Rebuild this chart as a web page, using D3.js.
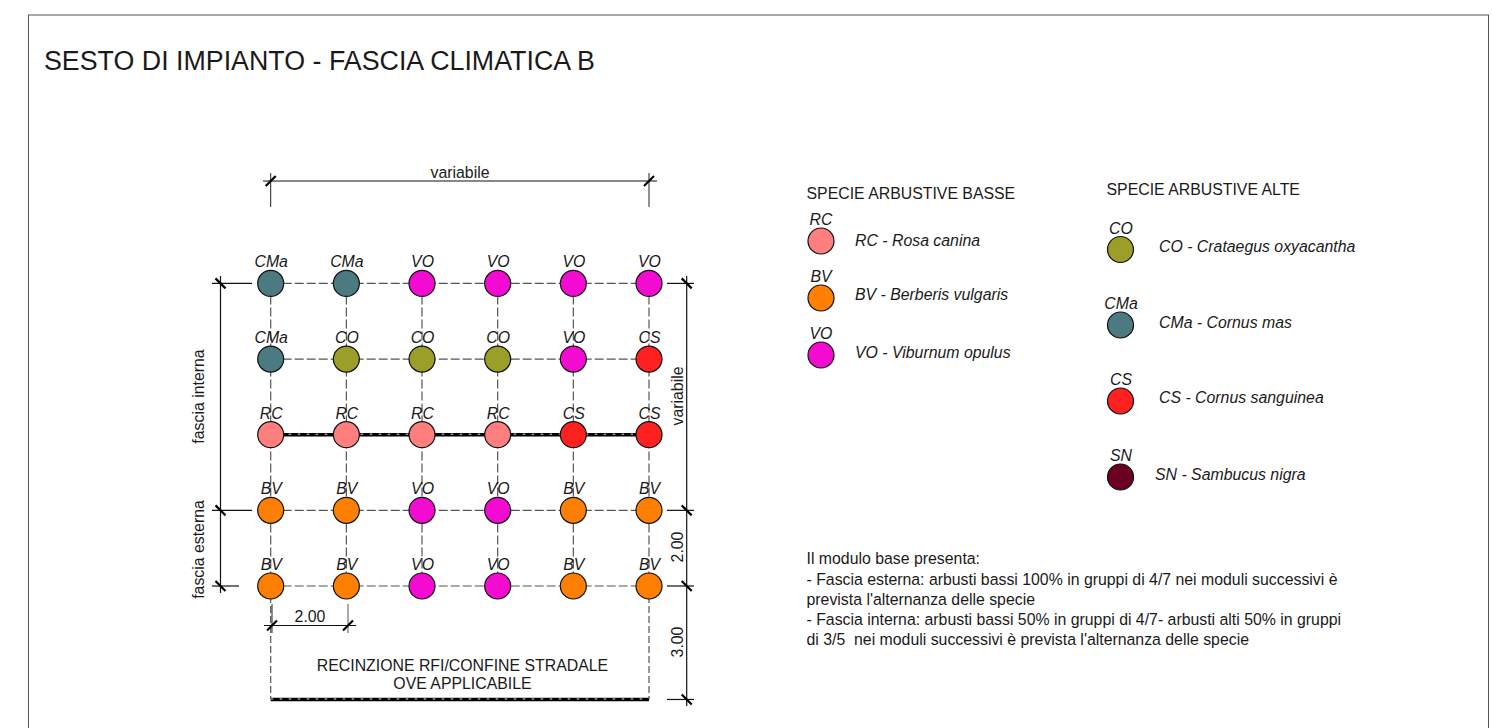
<!DOCTYPE html>
<html>
<head>
<meta charset="utf-8">
<script src="https://cdn.jsdelivr.net/npm/d3@7"></script>
<style>
    html, body { margin: 0; padding: 0; background: #fff; overflow: hidden; }
    svg { display: block; }
    text { font-family: "Liberation Sans", Arial, sans-serif; fill: #1a1a1a; }
</style>
</head>
<body>
<div id="chart"></div>
<script>
// Planting module, positions in metres
const colMetres = [0, 2, 4, 6, 8, 10];
const rowMetres = [0, 2, 4, 6, 8];
const fenceMetres = 11;

// Species on each row of the module, from the inner row to the road side
const plantRows = [
    ["CMa", "CMa", "VO", "VO", "VO", "VO"],
    ["CMa", "CO", "CO", "CO", "VO", "CS"],
    ["RC", "RC", "RC", "RC", "CS", "CS"],
    ["BV", "BV", "VO", "VO", "BV", "BV"],
    ["BV", "BV", "VO", "VO", "BV", "BV"]
];

const speciesCodes = ["RC", "BV", "VO", "CO", "CMa", "CS", "SN"];
const speciesColours = ["#ff7f7f", "#ff7f00", "#f40bd2", "#9c9f27", "#4b7a80", "#ff2020", "#6d0020"];

const lowSpecies = ["RC - Rosa canina", "BV - Berberis vulgaris", "VO - Viburnum opulus"];
const highSpecies = ["CO - Crataegus oxyacantha", "CMa - Cornus mas", "CS - Cornus sanguinea", "SN - Sambucus nigra"];

const noteLines = [
    "Il modulo base presenta:",
    "- Fascia esterna: arbusti bassi 100% in gruppi di 4/7 nei moduli successivi è",
    "prevista l'alternanza delle specie",
    "- Fascia interna: arbusti bassi 50% in gruppi di 4/7- arbusti alti 50% in gruppi",
    "di 3/5  nei moduli successivi è prevista l'alternanza delle specie"
];

const WIDTH = 1492;
const HEIGHT = 728;
const RADIUS = 13;
const FONT = 15.85;

const svg = d3.select("#chart")
    .append("svg")
    .attr("width", WIDTH)
    .attr("height", HEIGHT);

const xScale = d3.scaleLinear().domain([0, 10]).range([270.7, 649]);
const yScale = d3.scaleLinear().domain([0, 8]).range([283.4, 586]);
const colour = d3.scaleOrdinal().domain(speciesCodes).range(speciesColours);

// Helpers
function line(x1, y1, x2, y2, stroke = "#111", width = 1.2, dash = null) {
    return svg.append("line")
        .attr("x1", x1).attr("y1", y1)
        .attr("x2", x2).attr("y2", y2)
        .attr("stroke", stroke)
        .attr("stroke-width", width)
        .attr("stroke-dasharray", dash);
}

function label(x, y, str, size, opts = {}) {
    const t = svg.append("text")
        .attr("x", x)
        .attr("y", y)
        .attr("font-size", size)
        .attr("text-anchor", opts.anchor || "start")
        .attr("font-style", opts.italic ? "italic" : "normal")
        .style("white-space", "pre")
        .text(str);
    if (opts.rotate) t.attr("transform", `rotate(-90,${x},${y})`);
    return t;
}

// Slash tick of a dimension line
function slash(x, y) {
    line(x - 5, y + 5, x + 5, y - 5, "#000", 2.2);
}
function backslash(x, y) {
    line(x - 5, y - 5, x + 5, y + 5, "#000", 2.2);
}

// Page frame
svg.append("rect")
    .attr("x", 28.5)
    .attr("y", 15)
    .attr("width", 1460)
    .attr("height", 760)
    .attr("fill", "none")
    .attr("stroke", "#555")
    .attr("stroke-width", 1);

label(44, 69.5, "SESTO DI IMPIANTO - FASCIA CLIMATICA B", 26.8);

// Dashed grid
const DASH = "9 3";
const GRID = "#555";
rowMetres.forEach((r, i) => {
    if (i === 2) return;
    line(xScale(0), yScale(r), xScale(10), yScale(r), GRID, 1.2, DASH);
});
colMetres.forEach((c, i) => {
    line(xScale(c), yScale(0), xScale(c), yScale(8), GRID, 1.2, DASH);
});
// Edge columns carry on to the fence
line(xScale(0), yScale(8), xScale(0), yScale(fenceMetres), GRID, 1.2, "7 3");
line(xScale(10), yScale(8), xScale(10), yScale(fenceMetres), GRID, 1.2, "7 3");

// Thick rows: middle hedge row and fence
[yScale(4), yScale(fenceMetres)].forEach(y => {
    line(xScale(0), y, xScale(10), y, "#000", 3.6);
    line(xScale(0), y - 0.5, xScale(10), y - 0.5, "#fff", 0.9, "2.5 6.5");
});

// Top dimension
line(263, 181, 657, 181);
line(xScale(0), 173, xScale(0), 207, "#222", 1);
line(xScale(10), 173, xScale(10), 207, "#222", 1);
slash(xScale(0), 181);
slash(xScale(10), 181);
label(460, 178, "variabile", FONT, { anchor: "middle" });

// Left dimension
const leftX = 220.5;
line(leftX, 276, leftX, 593);
line(212, yScale(0), 252, yScale(0));
line(212, yScale(6), 252, yScale(6));
line(212, yScale(8), 239, yScale(8));
[0, 6, 8].forEach(r => backslash(leftX, yScale(r)));
label(204, 396.5, "fascia interna", FONT, { anchor: "middle", rotate: true });
label(204, 549.5, "fascia esterna", FONT, { anchor: "middle", rotate: true });

// Right dimension
const rightX = 686.7;
line(rightX, 276, rightX, 706);
[0, 6, 8, fenceMetres].forEach(r => {
    line(667, yScale(r), 694, yScale(r));
    backslash(rightX, yScale(r));
});
label(683, 396, "variabile", FONT, { anchor: "middle", rotate: true });
label(683, 547, "2.00", FONT, { anchor: "middle", rotate: true });
label(683, 642, "3.00", FONT, { anchor: "middle", rotate: true });

// Bottom spacing dimension
const spacingY = 625.5;
line(264, spacingY, 356, spacingY);
line(272, 604, 272, 633, "#222", 1);
line(348, 604, 348, 633, "#555", 1);
slash(272, spacingY);
slash(348, spacingY);
label(310, 622, "2.00", FONT, { anchor: "middle" });

label(462.5, 670.5, "RECINZIONE RFI/CONFINE STRADALE", FONT, { anchor: "middle" });
label(462.5, 688.5, "OVE APPLICABILE", FONT, { anchor: "middle" });

// Plants
const plants = plantRows.flatMap((row, i) =>
    row.map((code, j) => ({ code, x: xScale(colMetres[j]), y: yScale(rowMetres[i]) }))
);

svg.selectAll("circle.plant")
    .data(plants)
    .enter()
    .append("circle")
    .attr("class", "plant")
    .attr("cx", d => d.x)
    .attr("cy", d => d.y)
    .attr("r", RADIUS)
    .attr("fill", d => colour(d.code))
    .attr("stroke", "#111")
    .attr("stroke-width", 1.2);

svg.selectAll("text.plant-label")
    .data(plants)
    .enter()
    .append("text")
    .attr("class", "plant-label")
    .attr("x", d => d.x + 0.5)
    .attr("y", d => d.y - 16)
    .attr("text-anchor", "middle")
    .attr("font-size", FONT)
    .attr("font-style", "italic")
    .text(d => d.code);

// Legends
function legendItem(code, str, cx, cy, textX, textY, labelX) {
    svg.append("circle")
        .attr("cx", cx)
        .attr("cy", cy)
        .attr("r", RADIUS)
        .attr("fill", colour(code))
        .attr("stroke", "#111")
        .attr("stroke-width", 1.2);
    label(labelX, cy - 16, code, FONT, { anchor: "middle", italic: true });
    label(textX, textY, str, FONT, { italic: true });
}

label(806.5, 199, "SPECIE ARBUSTIVE BASSE", FONT);
const lowCy = [241, 298, 355];
const lowTextY = [246, 300, 358];
lowSpecies.forEach((s, i) => {
    legendItem(speciesCodes[i], s, 821, lowCy[i], 855, lowTextY[i], 821);
});

label(1106.5, 195, "SPECIE ARBUSTIVE ALTE", FONT);
const highCy = [249.5, 325, 401, 477];
const highTextY = [252, 328, 403, 480];
const highTextX = [1159, 1159, 1159, 1155];
highSpecies.forEach((s, i) => {
    legendItem(speciesCodes[i + 3], s, 1120.5, highCy[i], highTextX[i], highTextY[i], 1121);
});

// Notes
const noteY = [564, 584.5, 605, 625, 645];
noteLines.forEach((s, i) => label(806.5, noteY[i], s, FONT));
</script>
</body>
</html>
